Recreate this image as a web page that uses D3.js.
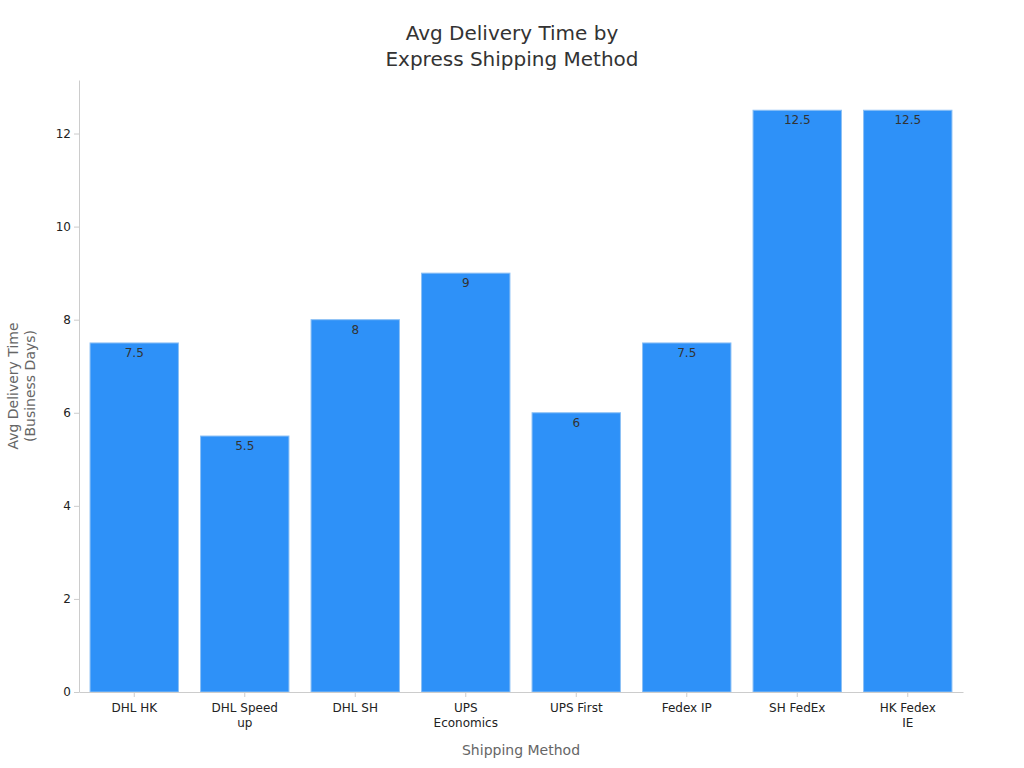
<!DOCTYPE html>
<html>
<head>
<meta charset="utf-8">
<script src="https://cdn.jsdelivr.net/npm/d3@7"></script>
<style>
  body { margin: 0; background: #fff; font-family: 'DejaVu Sans', sans-serif; }
  .tick text { font-family: 'DejaVu Sans', sans-serif; font-size: 12px; fill: #222; }
  .tick line, .domain { stroke: #ccc; }
</style>
</head>
<body>
<div id="chart"></div>
<script>
const methods = ['DHL HK', 'DHL Speed up', 'DHL SH', 'UPS Economics', 'UPS First', 'Fedex IP', 'SH FedEx', 'HK Fedex IE']
const days = [7.5, 5.5, 8, 9, 6, 7.5, 12.5, 12.5]
const yTicks = [0, 2, 4, 6, 8, 10, 12]

const margin = { top: 80, right: 61, bottom: 76, left: 79 }
const width = 1024 - margin.left - margin.right,
      height = 768 - margin.top - margin.bottom

const svg = d3.select('#chart').append('svg')
  .attr('width', 1024)
  .attr('height', 768)

const xScale = d3.scaleBand()
  .domain(methods)
  .range([0, width])
  .paddingInner(0.2)
  .paddingOuter(0.1)

const yScale = d3.scaleLinear()
  .domain([0, 13.15])
  .range([height, 0])

const g = svg.append('g')
  .attr('transform', 'translate(' + margin.left + ', ' + margin.top + ')')

// bars
g.selectAll('rect.bar')
  .data(methods).enter()
  .append('rect').classed('bar', true)
  .attr('x', d => xScale(d))
  .attr('y', (d, i) => yScale(days[i]))
  .attr('width', xScale.bandwidth())
  .attr('height', (d, i) => height - yScale(days[i]))
  .style('fill', '#2e91f8')
  .style('stroke', '#8cc0f5')
  .style('stroke-width', 1)

g.selectAll('text.value')
  .data(methods).enter()
  .append('text').classed('value', true)
  .attr('x', d => xScale(d) + xScale.bandwidth() / 2)
  .attr('y', (d, i) => yScale(days[i]) + 14)
  .attr('text-anchor', 'middle')
  .style('font-size', '12px')
  .style('fill', '#333')
  .text((d, i) => days[i])

// axes
g.append('g')
  .call(d3.axisLeft(yScale).tickValues(yTicks).tickSize(5).tickSizeOuter(0))

const xAxis = g.append('g')
  .attr('transform', 'translate(0, ' + height + ')')
  .call(d3.axisBottom(xScale).tickSize(5).tickSizeOuter(0))

// wrap long tick labels
xAxis.selectAll('.tick text').each(function (d) {
  const text = d3.select(this)
  const words = d.split(' ')
  text.text(null)
  let line = []
  let lines = []
  const probe = text.append('tspan')
  words.forEach(w => {
    line.push(w)
    probe.text(line.join(' '))
    if (probe.node().getComputedTextLength() > 68 && line.length > 1) {
      line.pop()
      lines.push(line.join(' '))
      line = [w]
    }
  })
  lines.push(line.join(' '))
  probe.remove()
  lines.forEach((l, i) => {
    text.append('tspan')
      .attr('x', 0)
      .attr('dy', i === 0 ? '0.71em' : '1.25em')
      .text(l)
  })
})
xAxis.selectAll('.tick text').attr('y', 11)

// titles
const title = svg.append('text')
  .attr('text-anchor', 'middle')
  .attr('x', 512)
  .style('font-size', '20px')
  .style('fill', '#333')
title.append('tspan').attr('x', 512).attr('y', 40).text('Avg Delivery Time by')
title.append('tspan').attr('x', 512).attr('y', 66).text('Express Shipping Method')

svg.append('text')
  .attr('text-anchor', 'middle')
  .attr('x', margin.left + width / 2)
  .attr('y', 755)
  .style('font-size', '14px')
  .style('fill', '#666')
  .text('Shipping Method')

const yLabel = svg.append('text')
  .attr('text-anchor', 'middle')
  .attr('transform', 'translate(18, ' + (margin.top + height / 2) + ') rotate(-90)')
  .style('font-size', '14px')
  .style('fill', '#666')
yLabel.append('tspan').attr('x', 0).attr('y', 0).text('Avg Delivery Time')
yLabel.append('tspan').attr('x', 0).attr('y', 17).text('(Business Days)')
</script>
</body>
</html>
